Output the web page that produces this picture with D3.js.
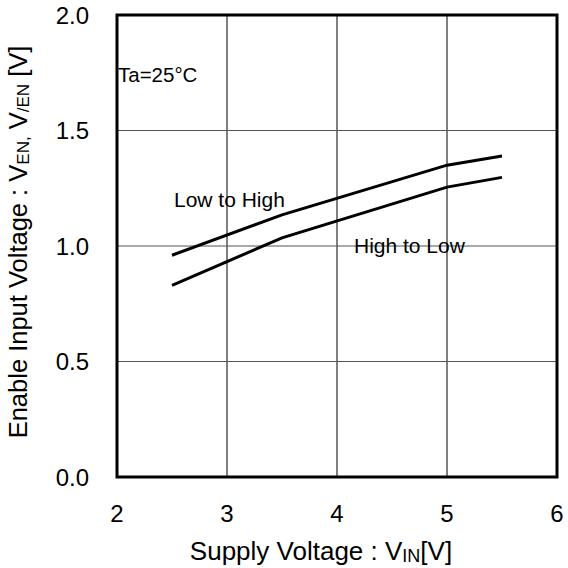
<!DOCTYPE html>
<html>
<head>
<meta charset="utf-8">
<script src="https://cdn.jsdelivr.net/npm/d3@7"></script>
<style>
  body { margin: 0; background: #fff; }
  text { font-family: "Liberation Sans", Arial, sans-serif; fill: #000; }
</style>
</head>
<body>
<div class="chart"></div>
<script>
// supply voltage points and the two enable thresholds
const vin = [2.5, 3.5, 5, 5.5];
const lowToHigh = [0.96, 1.135, 1.35, 1.39];
const highToLow = [0.83, 1.035, 1.255, 1.297];
const xTicks = [2, 3, 4, 5, 6];
const yTicks = [0, 0.5, 1.0, 1.5, 2.0];

const W = 568, H = 568;
const margin = { left: 117, right: 11, top: 15, bottom: 91 };

const svg = d3.select('.chart')
  .append('svg')
  .attr('width', W)
  .attr('height', H);

const x = d3.scaleLinear().domain([2, 6]).range([margin.left, W - margin.right]);
const y = d3.scaleLinear().domain([0, 2]).range([H - margin.bottom, margin.top]);

// grid
svg.append('g')
  .selectAll('line')
  .data(xTicks.slice(1, -1))
  .join('line')
  .attr('x1', d => x(d)).attr('x2', d => x(d))
  .attr('y1', y(0)).attr('y2', y(2))
  .attr('stroke', '#000').attr('stroke-width', 1);
svg.append('g')
  .selectAll('line')
  .data(yTicks.slice(1, -1))
  .join('line')
  .attr('x1', x(2)).attr('x2', x(6))
  .attr('y1', d => y(d)).attr('y2', d => y(d))
  .attr('stroke', '#555').attr('stroke-width', 1);

// frame
svg.append('rect')
  .attr('x', x(2)).attr('y', y(2))
  .attr('width', x(6) - x(2)).attr('height', y(0) - y(2))
  .attr('fill', 'none').attr('stroke', '#000').attr('stroke-width', 3);

// tick labels
svg.append('g')
  .selectAll('text')
  .data(yTicks)
  .join('text')
  .attr('x', 89).attr('y', d => y(d))
  .attr('dy', '0.36em')
  .attr('text-anchor', 'end')
  .attr('font-size', 24)
  .text(d => d.toFixed(1));
svg.append('g')
  .selectAll('text')
  .data(xTicks)
  .join('text')
  .attr('x', d => x(d)).attr('y', 522)
  .attr('text-anchor', 'middle')
  .attr('font-size', 24)
  .text(d => d);

// curves
const line = d3.line().x((d, i) => x(vin[i])).y(d => y(d));
[lowToHigh, highToLow].forEach(s => {
  svg.append('path')
    .attr('d', line(s))
    .attr('fill', 'none')
    .attr('stroke', '#000')
    .attr('stroke-width', 3);
});

// annotations
svg.append('text').attr('x', 118).attr('y', 82).attr('font-size', 20.5).text('Ta=25°C');
svg.append('text').attr('x', 174).attr('y', 207).attr('font-size', 21).text('Low to High');
svg.append('text').attr('x', 354).attr('y', 253).attr('font-size', 21).text('High to Low');

// axis titles
const xt = svg.append('text')
  .attr('x', 321).attr('y', 560)
  .attr('text-anchor', 'middle')
  .attr('font-size', 26);
xt.append('tspan').text('Supply Voltage : V');
xt.append('tspan').attr('font-size', 18).attr('dy', 2).text('IN');
xt.append('tspan').attr('dy', -2).text('[V]');

const yt = svg.append('text')
  .attr('transform', `translate(27,242) rotate(-90)`)
  .attr('text-anchor', 'middle')
  .attr('font-size', 25.5);
yt.append('tspan').text('Enable Input Voltage : V');
yt.append('tspan').attr('font-size', 17).attr('dy', 2).text('EN,');
yt.append('tspan').attr('dy', -2).text(' V');
yt.append('tspan').attr('font-size', 17).attr('dy', 2).text('/EN');
yt.append('tspan').attr('dy', -2).text(' [V]');
</script>
</body>
</html>
